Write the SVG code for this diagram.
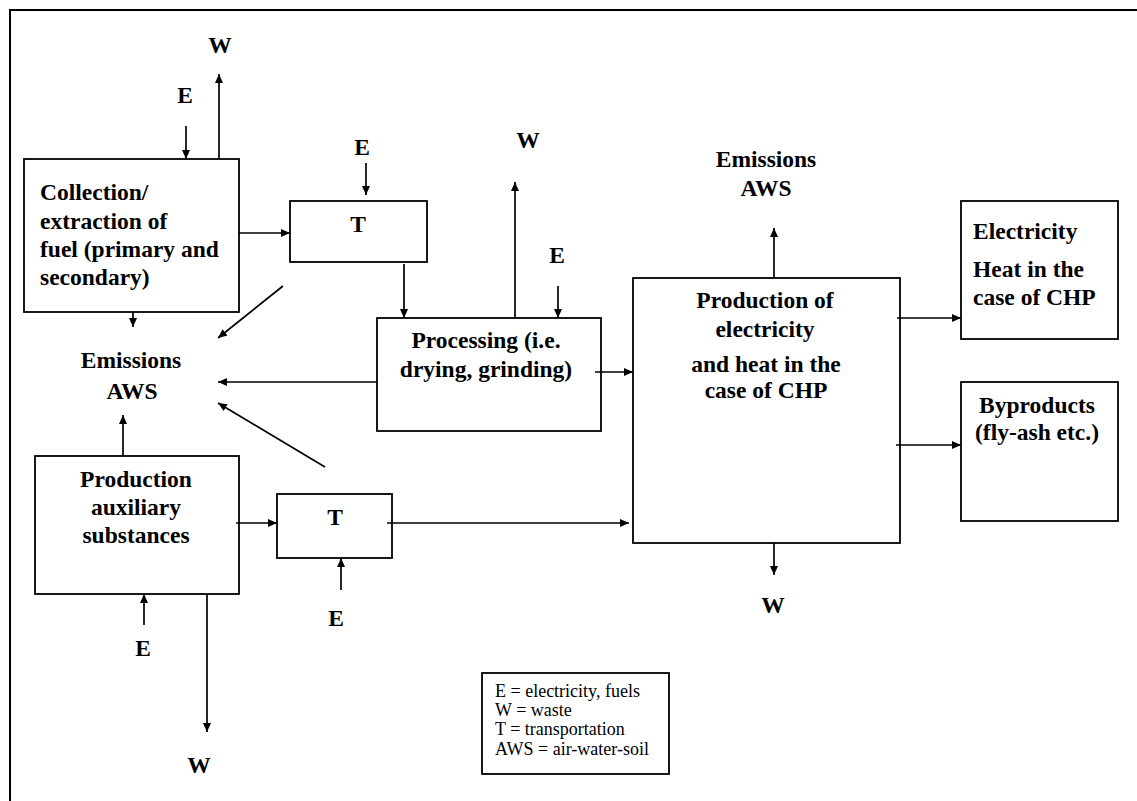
<svg xmlns="http://www.w3.org/2000/svg" width="1137" height="801" viewBox="0 0 1137 801">
<style>
.box{fill:#fff;stroke:#000;stroke-width:1.8}
.frame{fill:none;stroke:#000;stroke-width:2}
.c{fill:none;stroke:#000;stroke-width:1.7;marker-end:url(#ah)}
.b{font-weight:bold;font-size:23.5px;fill:#000}
.m{text-anchor:middle}
.leg{font-size:18px;fill:#000}
</style>
<defs>
<marker id="ah" viewBox="0 0 10 10" refX="10" refY="5" markerWidth="9" markerHeight="8" markerUnits="userSpaceOnUse" orient="auto" preserveAspectRatio="none">
<path d="M0,0 L10,5 L0,10 z" fill="#000"/>
</marker>
</defs>
<rect width="1137" height="801" fill="#fff"/>
<path class="frame" d="M10,801 L10,10 L1137,10"/>
<g font-family="Liberation Serif, DejaVu Serif, serif">
<g id="collection">
<rect class="box" x="24" y="159" width="215" height="153"/>
<text class="b" x="40" y="200">Collection/</text>
<text class="b" x="40" y="229">extraction of</text>
<text class="b" x="40" y="257">fuel (primary and</text>
<text class="b" x="40" y="285">secondary)</text>
</g>
<g id="t1">
<rect class="box" x="290" y="201" width="137" height="61"/>
<text class="b m" x="358" y="232">T</text>
</g>
<g id="processing">
<rect class="box" x="377" y="318" width="224" height="113"/>
<text class="b m" x="486" y="348">Processing (i.e.</text>
<text class="b m" x="486" y="377">drying, grinding)</text>
</g>
<g id="aux">
<rect class="box" x="35" y="456" width="204" height="138"/>
<text class="b m" x="136" y="487">Production</text>
<text class="b m" x="136" y="515">auxiliary</text>
<text class="b m" x="136" y="543">substances</text>
</g>
<g id="t2">
<rect class="box" x="277" y="494" width="115" height="64"/>
<text class="b m" x="335" y="525">T</text>
</g>
<g id="chp">
<rect class="box" x="633" y="278" width="267" height="265"/>
<text class="b m" x="765" y="308">Production of</text>
<text class="b m" x="765" y="337">electricity</text>
<text class="b m" x="766" y="372">and heat in the</text>
<text class="b m" x="766" y="398">case of CHP</text>
</g>
<g id="electricity">
<rect class="box" x="961" y="201" width="157" height="138"/>
<text class="b" x="973" y="239">Electricity</text>
<text class="b" x="973" y="277">Heat in the</text>
<text class="b" x="973" y="305">case of CHP</text>
</g>
<g id="byproducts">
<rect class="box" x="961" y="382" width="157" height="139"/>
<text class="b m" x="1037" y="413">Byproducts</text>
<text class="b m" x="1037" y="440">(fly-ash etc.)</text>
</g>
<g id="emissions-left">
<text class="b m" x="131" y="368">Emissions</text>
<text class="b m" x="132" y="399">AWS</text>
</g>
<g id="emissions-top">
<text class="b m" x="766" y="167">Emissions</text>
<text class="b m" x="766" y="196">AWS</text>
</g>
<g id="labels">
<text class="b m" x="220" y="53">W</text>
<text class="b m" x="185" y="103">E</text>
<text class="b m" x="362" y="155">E</text>
<text class="b m" x="528" y="148">W</text>
<text class="b m" x="557" y="263">E</text>
<text class="b m" x="336" y="626">E</text>
<text class="b m" x="143" y="656">E</text>
<text class="b m" x="199" y="773">W</text>
<text class="b m" x="773" y="613">W</text>
</g>
<g id="legend">
<rect class="box" x="482" y="673" width="187" height="101"/>
<text class="leg" x="495" y="697">E = electricity, fuels</text>
<text class="leg" x="495" y="716">W = waste</text>
<text class="leg" x="495" y="735">T = transportation</text>
<text class="leg" x="495" y="755">AWS = air-water-soil</text>
</g>
</g>
<g id="connectors">
<path class="c" d="M186,126 L186,159"/>
<path class="c" d="M219,159 L219,74"/>
<path class="c" d="M239,233 L290,233"/>
<path class="c" d="M366,163 L366,195"/>
<path class="c" d="M283,286 L218,338"/>
<path class="c" d="M133,312 L133,327"/>
<path class="c" d="M404,264 L404,318"/>
<path class="c" d="M515,318 L515,182"/>
<path class="c" d="M558,286 L558,318"/>
<path class="c" d="M377,382 L218,382"/>
<path class="c" d="M595,372 L633,372"/>
<path class="c" d="M325,467 L218,403"/>
<path class="c" d="M123,456 L123,415"/>
<path class="c" d="M236,523 L277,523"/>
<path class="c" d="M387,523 L629,523"/>
<path class="c" d="M341,590 L341,558"/>
<path class="c" d="M144,625 L144,594"/>
<path class="c" d="M207,594 L207,732"/>
<path class="c" d="M774,278 L774,228"/>
<path class="c" d="M897,318 L961,318"/>
<path class="c" d="M896,445 L961,445"/>
<path class="c" d="M774,543 L774,575"/>
</g>
</svg>
